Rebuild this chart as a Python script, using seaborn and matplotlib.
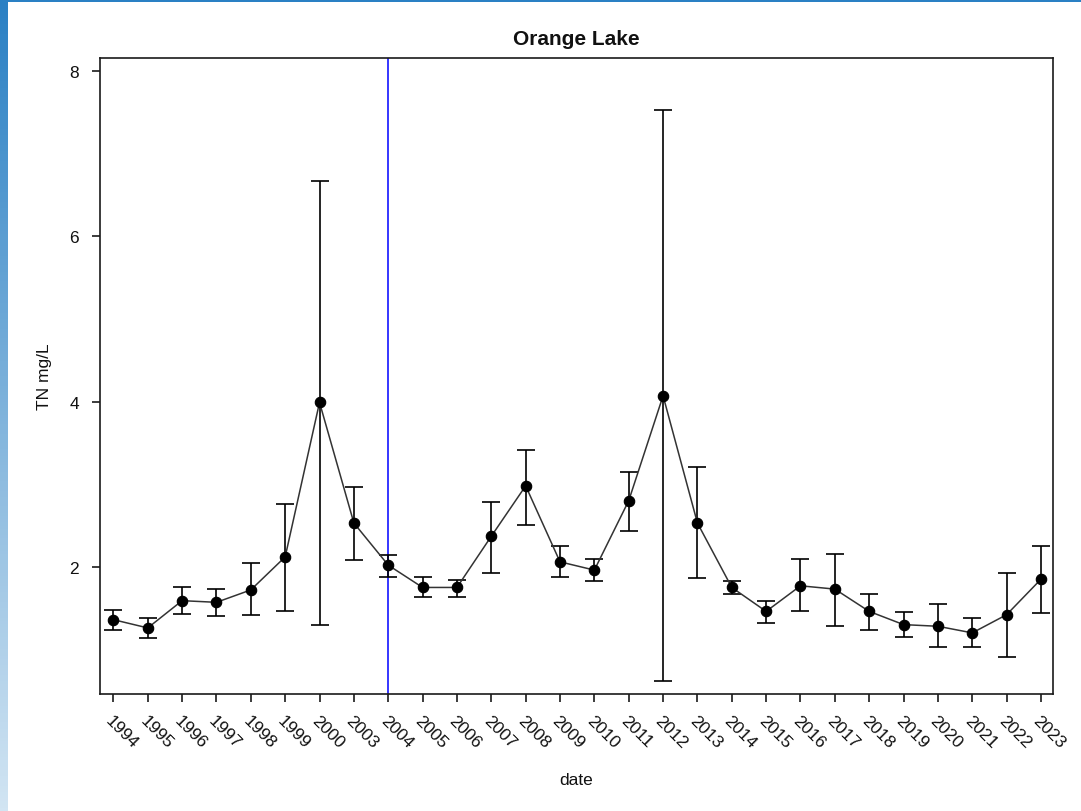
import numpy as np
import pandas as pd
import matplotlib
matplotlib.use("Agg")
import matplotlib.pyplot as plt
from matplotlib.patches import Rectangle
import seaborn as sns

# Yearly mean total nitrogen (mg/L) with lower/upper interval bounds
years = ['1994', '1995', '1996', '1997', '1998', '1999', '2000', '2003', '2004',
         '2005', '2006', '2007', '2008', '2009', '2010', '2011', '2012', '2013',
         '2014', '2015', '2016', '2017', '2018', '2019', '2020', '2021', '2022',
         '2023']
mean_tn = [1.36, 1.26, 1.59, 1.57, 1.72, 2.12, 3.99, 2.53, 2.02,
           1.75, 1.75, 2.37, 2.98, 2.06, 1.96, 2.80, 4.07, 2.53,
           1.75, 1.46, 1.77, 1.73, 1.46, 1.30, 1.28, 1.20, 1.42,
           1.85]
upper_tn = [1.48, 1.38, 1.76, 1.73, 2.04, 2.76, 6.67, 2.97, 2.14,
            1.88, 1.84, 2.79, 3.42, 2.25, 2.10, 3.15, 7.53, 3.21,
            1.83, 1.59, 2.10, 2.16, 1.67, 1.45, 1.55, 1.38, 1.93,
            2.25]
lower_tn = [1.24, 1.14, 1.43, 1.40, 1.42, 1.46, 1.30, 2.08, 1.88,
            1.63, 1.63, 1.93, 2.51, 1.88, 1.83, 2.43, 0.62, 1.86,
            1.67, 1.32, 1.46, 1.28, 1.24, 1.15, 1.03, 1.03, 0.91,
            1.44]
ref_year = '2004'
y_ticks = [2, 4, 6, 8]

sns.set_theme(style="ticks")
plt.rcParams['font.family'] = ['Liberation Sans', 'DejaVu Sans']
plt.rcParams['axes.edgecolor'] = '#1a1a1a'
plt.rcParams['axes.linewidth'] = 1.2

df = pd.DataFrame({'date': years, 'TN': mean_tn,
                   'lo': lower_tn, 'hi': upper_tn})

fig = plt.figure(figsize=(10.81, 8.12), dpi=100)
fig.patch.set_facecolor('white')

# Blue frame: gradient strip on the left, solid band on top
strip = fig.add_axes([0, 0, 8 / 1081, 1])
grad = np.linspace(0, 1, 256).reshape(-1, 1)
cmap = matplotlib.colors.LinearSegmentedColormap.from_list(
    'frame', ['#2a80c4', '#d2e5f3'])
strip.imshow(grad, aspect='auto', cmap=cmap, extent=[0, 1, 0, 1], origin='upper')
strip.set_axis_off()
fig.add_artist(Rectangle((0, 1 - 3 / 812), 1, 3 / 812, transform=fig.transFigure,
                         color='#2a80c4', lw=0, zorder=5))

ax = fig.add_axes([100 / 1081, 1 - 695 / 812, 953 / 1081, 636 / 812])

sns.pointplot(data=df, x='date', y='TN', color='black', errorbar=None,
              markers='o', markersize=7.5, linewidth=1.1, ax=ax, zorder=4)
for ln in ax.lines:
    ln.set_color('#333333')
    ln.set_markerfacecolor('black')
    ln.set_markeredgecolor('black')

xpos = np.arange(len(years))
yerr = [df['TN'] - df['lo'], df['hi'] - df['TN']]
ax.errorbar(xpos, df['TN'], yerr=yerr, fmt='none', ecolor='black',
            elinewidth=1.2, capsize=6.5, capthick=1.2, zorder=3)

ax.axvline(years.index(ref_year), color='#0000ff', lw=1.1, zorder=2)

ax.set_xlim(-0.39, len(years) - 1 + 0.35)
ax.set_ylim(0.46, 8.16)
ax.set_yticks(y_ticks)
ax.set_yticklabels([str(t) for t in y_ticks])
ax.set_xticks(xpos)
ax.set_xticklabels(years, rotation=-45, ha='left', va='top',
                   rotation_mode='anchor')
ax.tick_params(axis='both', direction='out', length=6, width=1.2,
               color='#1a1a1a', labelsize=12.5, labelcolor='#111111')
ax.tick_params(axis='y', pad=9)
ax.tick_params(axis='x', pad=7)
for s in ax.spines.values():
    s.set_visible(True)

ax.set_title('Orange Lake', fontsize=15, fontweight='bold', pad=10,
             color='#111111')
ax.set_xlabel('date', fontsize=12.5, labelpad=16, color='#111111')
ax.set_ylabel('TN mg/L', fontsize=12.5, color='#111111')
ax.yaxis.set_label_coords(-48 / 953, 0.5)

fig.savefig('out.png', dpi=100, facecolor='white')
